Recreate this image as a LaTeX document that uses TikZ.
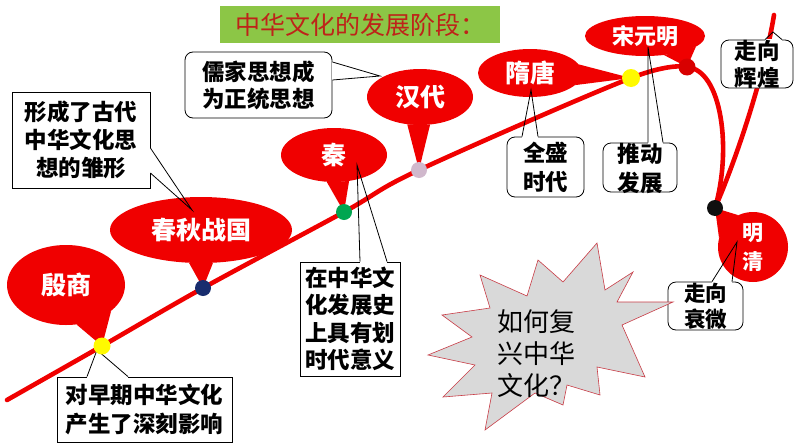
\documentclass[tikz,border=0pt]{standalone}
\usepackage{fontspec}
\newfontfamily\cjk{Noto Sans CJK SC}
\usetikzlibrary{shapes.geometric,calc}
\definecolor{mred}{RGB}{240,0,0}
\definecolor{tgreen}{RGB}{140,198,70}
\definecolor{tred}{RGB}{190,35,25}
\definecolor{dyellow}{RGB}{255,250,0}
\definecolor{dnavy}{RGB}{24,45,110}
\definecolor{dgreen}{RGB}{0,166,80}
\definecolor{dpink}{RGB}{208,184,204}
\definecolor{dblack}{RGB}{15,15,15}
\definecolor{sgray}{RGB}{217,217,217}
\definecolor{sline}{RGB}{200,60,70}
\newcommand\wptr[3]{\draw[white,line width=1.8pt] (#1)--(#2); \draw[wline] (#1)--(#3)--(#2);}
\begin{document}
\begin{tikzpicture}[x=1pt,y=-1pt,
  redell/.style={ellipse, fill=mred, inner sep=0pt, text=white, font=\cjk\bfseries\fontsize{25}{29}\selectfont},
  redline/.style={draw=mred, line width=4.6pt, line cap=round},
  dot/.style={circle, inner sep=0pt, minimum size=17pt},
  wbox/.style={draw=black, fill=white, line width=0.8pt, inner sep=0pt},
  rbox/.style={wbox, rounded corners=8pt},
  wline/.style={draw=black, line width=0.8pt},
  btext/.style={inner sep=0pt, align=center, text=black, font=\cjk\bfseries\fontsize{22.5}{28}\selectfont},
]
\useasboundingbox (0,0) rectangle (794,447);
\fill[white] (0,0) rectangle (794,447);

% title
\node[fill=tgreen, minimum width=280pt, minimum height=37pt, inner sep=0pt, text=tred,
  font=\cjk\fontsize{25}{28}\selectfont] (title) at (360,24.5) {中华文化的发展阶段：};

% dots (drawn later, named now)
\node[dot] (d1) at (102,346) {};
\node[dot] (d2) at (203,288) {};
\node[dot] (d3) at (344,212) {};
\node[dot] (d4) at (419,170) {};
\node[dot, minimum size=18pt] (d5) at (631,78) {};
\node[dot] (d6) at (687,67) {};
\node[dot] (d7) at (715,208) {};
\coordinate (lstart) at (7,400);
\coordinate (lend) at (774,15);

% red ellipse callouts
\node[redell, minimum width=118pt, minimum height=80pt] (yin) at (66,285) {殷商};
\fill[mred] (yin.-75) -- (d1.center) -- (yin.-30) -- cycle;
\node[redell, minimum width=182pt, minimum height=66pt] (chun) at (201,230) {春秋战国};
\fill[mred] (chun.-110) -- (d2.center) -- (chun.-70) -- cycle;
\node[redell, minimum width=106pt, minimum height=54pt] (qin) at (334,155) {秦};
\fill[mred] (qin.-105) -- (d3.center) -- (qin.-60) -- cycle;
\node[redell, minimum width=106pt, minimum height=56pt] (han) at (420,97) {汉代};
\fill[mred] (han.-115) -- (d4.center) -- (han.-70) -- cycle;
\node[redell, minimum width=104pt, minimum height=48pt] (sui) at (530,73) {隋唐};
\fill[mred] (sui.10) -- (d5.center) -- (sui.-15) -- cycle;
\node[redell, minimum width=120pt, minimum height=40pt, font=\cjk\bfseries\fontsize{22}{26}\selectfont] (song) at (645,36) {宋元明};
\fill[mred] (song.-45) -- (d6.center) -- (song.-12) -- cycle;
\node[circle, fill=mred, minimum size=70pt, inner sep=0pt, text=white, align=center,
  font=\cjk\bfseries\fontsize{21}{29}\selectfont] (ming) at (753,247) {明\\清};
\fill[mred] (ming.165) -- (d7.center) -- (ming.115) -- cycle;

% main red line
\draw[redline] plot[smooth, tension=0.55] coordinates {(lstart) (d1.center) (d2.center) (d3.center) (d4.center) (d5.center) (d6.center)};
\draw[redline] (d6.center) .. controls (722,70) and (732,150) .. (d7.center);
\draw[redline] (d7.center) .. controls (740,150) and (765,70) .. (lend);

% white callouts
\coordinate (t1) at (192,210);
\node[wbox, minimum width=138pt, minimum height=96pt] (n1) at (81,140) {};
\wptr{$(n1.east)+(0,8)$}{$(n1.east)+(0,33)$}{t1}
\node[btext] (n1t) at (n1.center) {形成了古代\\中华文化思\\想的雏形};

\coordinate (t2) at (380,76);
\node[rbox, minimum width=147pt, minimum height=66pt] (n2) at (258.5,85) {};
\wptr{$(n2.east)+(0,-23)$}{$(n2.east)+(0,-5)$}{t2}
\node[btext, font=\cjk\bfseries\fontsize{22.5}{27}\selectfont] (n2t) at (n2.center) {儒家思想成\\为正统思想};

\coordinate (t3) at (357,165);
\node[wbox, minimum width=100pt, minimum height=114pt] (n3) at (350,319) {};
\wptr{$(n3.north)+(10,0)$}{$(n3.north)+(37,0)$}{t3}
\node[btext, font=\cjk\bfseries\fontsize{22.5}{27.5}\selectfont] (n3t) at (n3.center) {在中华文\\化发展史\\上具有划\\时代意义};

\coordinate (t4) at (97,350);
\node[wbox, minimum width=175pt, minimum height=65pt] (n4) at (144.5,409.5) {};
\wptr{$(n4.north)+(-57.5,0)$}{$(n4.north)+(-16.5,0)$}{t4}
\node[btext, font=\cjk\bfseries\fontsize{22.5}{29}\selectfont] (n4t) at (n4.center) {对早期中华文化\\产生了深刻影响};

\coordinate (t5) at (531,90);
\node[rbox, minimum width=77pt, minimum height=60pt] (n5) at (545.5,167) {};
\wptr{$(n5.north)+(-23.5,0)$}{$(n5.north)+(-7.5,0)$}{t5}
\node[btext, font=\cjk\bfseries\fontsize{22.5}{29}\selectfont] (n5t) at (n5.center) {全盛\\时代};

\coordinate (t6) at (648,47);
\node[rbox, minimum width=74pt, minimum height=49pt] (n6) at (640,167.5) {};
\wptr{$(n6.north)+(8,0)$}{$(n6.north)+(23,0)$}{t6}
\node[btext, font=\cjk\bfseries\fontsize{22.5}{29}\selectfont] (n6t) at (640,168.5) {推动\\发展};

\coordinate (t7) at (773,32);
\node[rbox, minimum width=72pt, minimum height=48pt] (n7) at (757,64) {};
\wptr{$(n7.north)+(8,0)$}{$(n7.north)+(25,0)$}{t7}
\node[btext, font=\cjk\bfseries\fontsize{22.5}{27}\selectfont] (n7t) at (n7.center) {走向\\辉煌};

\coordinate (t8) at (737,242);
\node[rbox, minimum width=75pt, minimum height=48pt] (n8) at (705.5,306) {};
\wptr{$(n8.north)+(6.5,0)$}{$(n8.north)+(26.5,0)$}{t8}
\node[btext, font=\cjk\bfseries\fontsize{21.5}{26}\selectfont] (n8t) at (n8.center) {走向\\衰微};

% dots
\fill[dyellow] (d1) circle (8.5pt);
\fill[dnavy] (d2) circle (8pt);
\fill[dgreen] (d3) circle (8pt);
\fill[dpink] (d4) circle (8pt);
\fill[dyellow] (d5) circle (9pt);
\fill[mred!90!black] (d6) circle (8.5pt);
\fill[dblack] (d7) circle (8pt);

% starburst
\draw[fill=sgray, draw=sline, line width=0.6pt]
  (597,243) -- (605,290) -- (633,272) -- (617,302) -- (673,302) -- (622,325)
  -- (645,377) -- (597,367) -- (600,395) -- (567,385) -- (563,405) -- (535,393)
  -- (485,430) -- (492,393) -- (443,397) -- (475,365) -- (428,355) -- (472,337)
  -- (442,315) -- (490,308) -- (480,275) -- (527,296) -- (538,260) -- (563,282) -- cycle;
\node[inner sep=0pt, align=left, text=black, font=\cjk\fontsize{26}{32}\selectfont] (q) at (536,354) {如何复\\兴中华\\文化？};
\end{tikzpicture}
\end{document}
